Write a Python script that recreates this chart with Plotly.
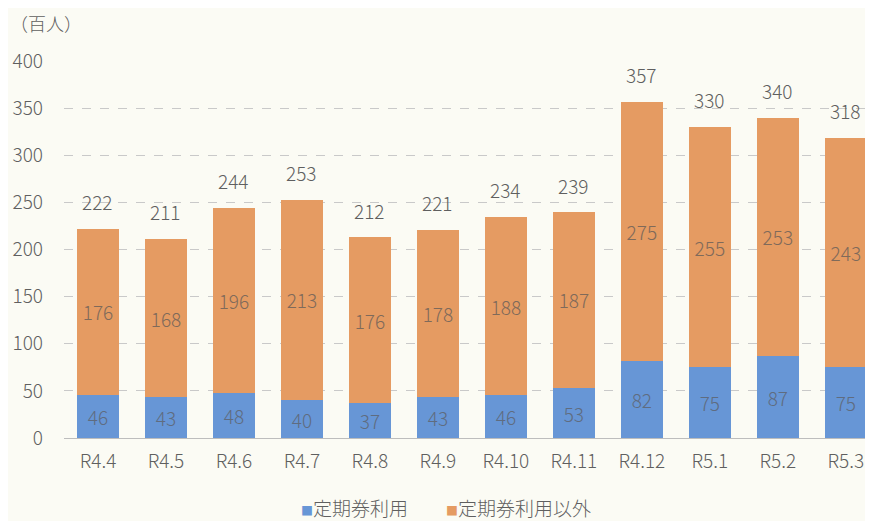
import plotly.graph_objects as go

months = ["R4.4", "R4.5", "R4.6", "R4.7", "R4.8", "R4.9", "R4.10", "R4.11", "R4.12", "R5.1", "R5.2", "R5.3"]
commuter_pass = [46, 43, 48, 40, 37, 43, 46, 53, 82, 75, 87, 75]
other = [176, 168, 196, 213, 176, 178, 188, 187, 275, 255, 253, 243]
totals = [222, 211, 244, 253, 212, 221, 234, 239, 357, 330, 340, 318]
y_ticks = [0, 50, 100, 150, 200, 250, 300, 350, 400]
series_names = ["定期券利用", "定期券利用以外"]

BLUE = "#6796d6"
ORANGE = "#e59b62"
TEXT = "#5f5f5f"
BG = "#fbfbf4"
FONT = "Noto Sans CJK JP, Noto Sans, sans-serif"

fig = go.Figure()
fig.add_trace(go.Bar(
    x=months, y=commuter_pass, name=series_names[0],
    marker=dict(color=BLUE, line=dict(width=0)),
    text=commuter_pass, textposition="inside", insidetextanchor="middle",
    textfont=dict(color="#5f6c80", size=19, family=FONT, weight=300),
))
fig.add_trace(go.Bar(
    x=months, y=other, name=series_names[1],
    marker=dict(color=ORANGE, line=dict(width=0)),
    text=other, textposition="inside", insidetextanchor="middle",
    textfont=dict(color="#7f6a5a", size=19, family=FONT, weight=300),
))

for m, t in zip(months, totals):
    fig.add_annotation(x=m, y=t, text=str(t), showarrow=False,
                       yanchor="bottom", yshift=12,
                       font=dict(size=19, color=TEXT, family=FONT, weight=300))

fig.add_annotation(xref="paper", yref="paper", x=-0.069, y=1.10,
                   xanchor="left", yanchor="middle", text="（百人）",
                   showarrow=False, font=dict(size=18, color=TEXT, family=FONT, weight=300))

legend_text = (f"<span style='color:{BLUE};font-size:12px'>■</span>{series_names[0]}"
               f"　　<span style='color:{ORANGE};font-size:12px'>■</span>{series_names[1]}")
fig.add_annotation(xref="paper", yref="paper", x=0.472, y=-0.185,
                   xanchor="center", yanchor="middle", text=legend_text,
                   showarrow=False, font=dict(size=19, color=TEXT, family=FONT, weight=300))

fig.update_layout(
    barmode="stack",
    bargap=0.38,
    width=865, height=513,
    margin=dict(l=56, r=0, t=53, b=83),
    paper_bgcolor=BG,
    plot_bgcolor=BG,
    showlegend=False,
    font=dict(family=FONT, color=TEXT, size=19, weight=300),
    uniformtext=dict(minsize=10, mode="show"),
    xaxis=dict(range=[-0.5, 11.4], showgrid=False, showline=False,
               tickfont=dict(size=19, color=TEXT, weight=300), ticks="", ticklabelstandoff=10),
    yaxis=dict(range=[0, 400], tickvals=y_ticks, showgrid=True,
               gridcolor="#c9c9c9", griddash="dash", gridwidth=1,
               zeroline=True, zerolinecolor="#bdbdbd", zerolinewidth=1,
               tickfont=dict(size=19, color=TEXT, weight=300), ticks="", ticklabelstandoff=20),
)

fig.write_html("out.html")
